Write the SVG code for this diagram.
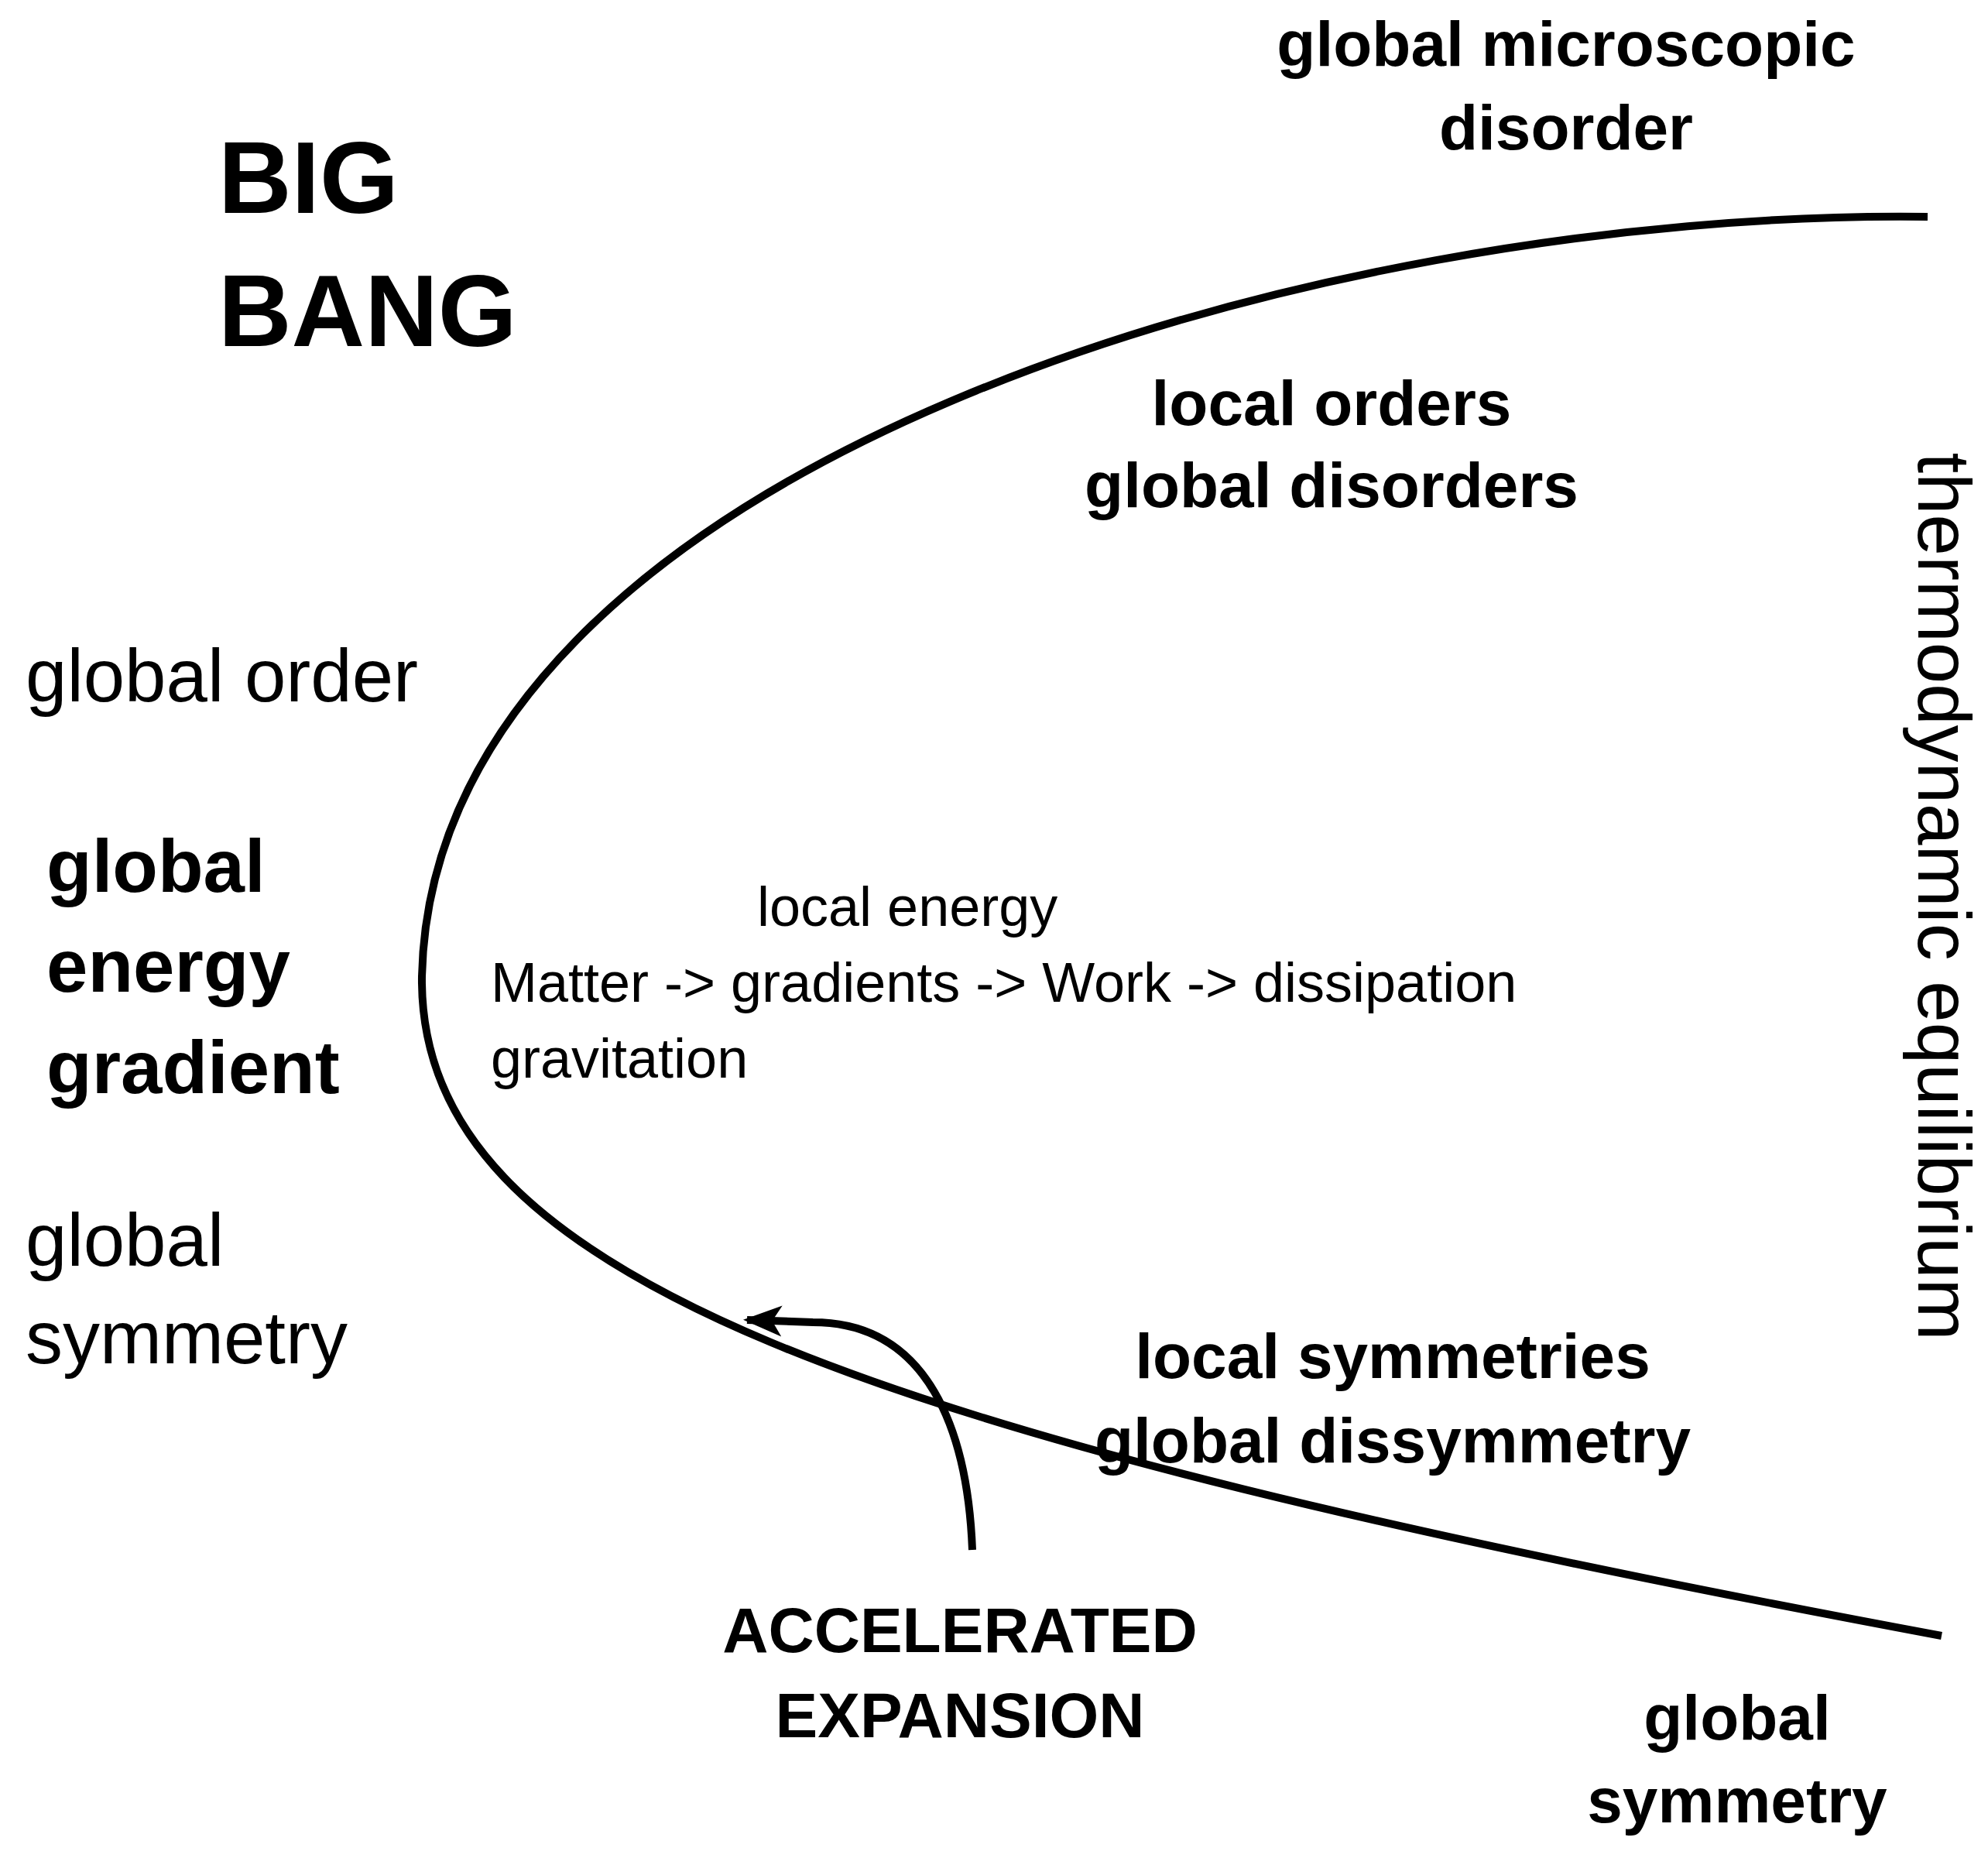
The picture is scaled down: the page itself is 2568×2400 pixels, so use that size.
<svg xmlns="http://www.w3.org/2000/svg" width="2568" height="2400" viewBox="0 0 2568 2400">
<style>
text{font-family:"Liberation Sans",Arial,sans-serif;fill:#000}
.b{font-weight:bold;font-size:82px}
.n{font-size:96px}
.s{font-size:72px}
.m{text-anchor:middle}
</style>
<defs><marker id="ah" viewBox="0 0 10 10" refX="9" refY="5" markerWidth="5" markerHeight="5" orient="auto" markerUnits="strokeWidth"><path d="M0 1 L10 5 L0 9 L2.5 5 Z"/></marker></defs>
<rect width="2568" height="2400" fill="#fff"/>
<g id="connectors" fill="none" stroke="#000" stroke-width="10">
<path id="curve" d="M2490 280 C1700 270 560 600 545 1261 C540 1650 1100 1850 2508 2113"/>
<path id="arrow" d="M1256 2002 C1250 1850 1200 1708 1050 1708 L965 1705" marker-end="url(#ah)"/>
</g>
<g id="bigbang"><text x="282" y="275" font-size="131" font-weight="bold">BIG</text><text x="282" y="447" font-size="131" font-weight="bold">BANG</text></g>
<g id="gmd"><text class="b m" x="2023" y="85">global microscopic</text><text class="b m" x="2023" y="193">disorder</text></g>
<g id="lo"><text class="b m" x="1720" y="549">local orders</text><text class="b m" x="1720" y="655">global disorders</text></g>
<g id="go"><text class="n" x="33" y="906">global order</text></g>
<g id="geg"><text x="60" y="1152" font-size="96" font-weight="bold">global</text><text x="60" y="1281" font-size="96" font-weight="bold">energy</text><text x="60" y="1412" font-size="96" font-weight="bold">gradient</text></g>
<g id="gs"><text class="n" x="33" y="1635">global</text><text class="n" x="33" y="1761">symmetry</text></g>
<g id="mid"><text class="s" x="978" y="1196">local energy</text><text class="s" x="634" y="1294">Matter -&gt; gradients -&gt; Work -&gt; dissipation</text><text class="s" x="634" y="1392">gravitation</text></g>
<g id="te"><text class="n m" transform="translate(2478 1158) rotate(90)">thermodynamic equilibrium</text></g>
<g id="ls"><text class="b m" x="1799" y="1780">local symmetries</text><text class="b m" x="1799" y="1889">global dissymmetry</text></g>
<g id="ae"><text class="b m" x="1240" y="2134">ACCELERATED</text><text class="b m" x="1240" y="2244">EXPANSION</text></g>
<g id="gs2"><text class="b m" x="2244" y="2247">global</text><text class="b m" x="2244" y="2354">symmetry</text></g>
</svg>
